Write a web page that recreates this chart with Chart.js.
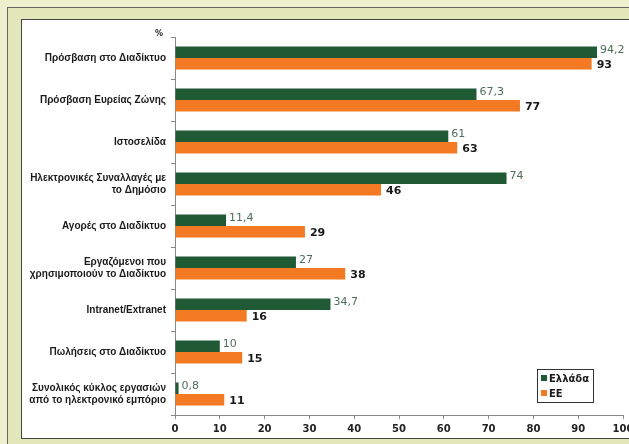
<!DOCTYPE html>
<html>
<head>
<meta charset="utf-8">
<script src="https://cdn.jsdelivr.net/npm/chart.js@4.4.0/dist/chart.umd.min.js"></script>
<style>
  html, body { margin: 0; padding: 0; width: 629px; height: 444px; overflow: hidden; background: #edf0cd; }
  #frame { position: absolute; left: 7px; top: 7px; width: 650px; height: 460px; border: 1px solid #666; background: #e3e8bb; }
  #panel { position: absolute; left: 13px; top: 11px; width: 620px; height: 418px; border: 1px solid #444; background: #fff; }
  canvas { display: block; }
</style>
</head>
<body>
<div id="frame">
  <div id="panel"><canvas id="chart" width="620" height="418"></canvas></div>
</div>
<script>
const categories = [
  "Πρόσβαση στο Διαδίκτυο",
  "Πρόσβαση Ευρείας Ζώνης",
  "Ιστοσελίδα",
  ["Ηλεκτρονικές Συναλλαγές με", "το Δημόσιο"],
  "Αγορές στο Διαδίκτυο",
  ["Εργαζόμενοι που", "χρησιμοποιούν το Διαδίκτυο"],
  "Intranet/Extranet",
  "Πωλήσεις στο Διαδίκτυο",
  ["Συνολικός κύκλος εργασιών", "από το ηλεκτρονικό εμπόριο"]
];
const greece = [94.2, 67.3, 61, 74, 11.4, 27, 34.7, 10, 0.8];
const eu = [93, 77, 63, 46, 29, 38, 16, 15, 11];
const xTicks = [0, 10, 20, 30, 40, 50, 60, 70, 80, 90, 100];

const GREEN = "#1f5a35";
const ORANGE = "#f37a23";

const valueLabels = {
  id: "valueLabels",
  afterDatasetsDraw(chart) {
    const ctx = chart.ctx;
    ctx.save();
    ctx.textBaseline = "middle";
    ctx.textAlign = "left";
    chart.data.datasets.forEach((ds, i) => {
      const meta = chart.getDatasetMeta(i);
      meta.data.forEach((bar, j) => {
        const txt = String(ds.data[j]).replace(".", ",");
        if (i === 0) {
          ctx.font = "11px 'DejaVu Sans'";
          ctx.fillStyle = "#4f6e5a";
          ctx.fillText(txt, bar.x + 3, bar.y - 2);
        } else {
          ctx.font = "bold 11px 'DejaVu Sans'";
          ctx.fillStyle = "#1a1a1a";
          ctx.fillText(txt, bar.x + 5, bar.y + 1);
        }
      });
    });
    ctx.restore();
  }
};

const extras = {
  id: "extras",
  afterDraw(chart) {
    const ctx = chart.ctx;
    const a = chart.chartArea;
    ctx.save();
    // percent sign
    ctx.font = "bold 8px 'DejaVu Sans'";
    ctx.fillStyle = "#222";
    ctx.textAlign = "right";
    ctx.textBaseline = "middle";
    ctx.fillText("%", a.left - 12, a.top - 3);
    // legend box
    const bx = a.right - 86, by = a.bottom - 46, bw = 56, bh = 33;
    ctx.fillStyle = "#fff";
    ctx.fillRect(bx, by, bw, bh);
    ctx.strokeStyle = "#333";
    ctx.lineWidth = 1;
    ctx.strokeRect(bx + 0.5, by + 0.5, bw, bh);
    const names = chart.data.datasets.map(d => d.label);
    const cols = chart.data.datasets.map(d => d.backgroundColor);
    ctx.textAlign = "left";
    ctx.font = "bold 10px 'DejaVu Sans'";
    names.forEach((n, i) => {
      const y = by + 9 + i * 15;
      ctx.fillStyle = cols[i];
      ctx.fillRect(bx + 4, y - 3, 6, 6);
      ctx.fillStyle = "#1a1a1a";
      ctx.fillText(n, bx + 12, y + 1);
    });
    ctx.restore();
  }
};

new Chart(document.getElementById("chart"), {
  type: "bar",
  data: {
    labels: categories,
    datasets: [
      { label: "Ελλάδα", data: greece, backgroundColor: GREEN, categoryPercentage: 0.55, barPercentage: 1.0 },
      { label: "ΕΕ", data: eu, backgroundColor: ORANGE, categoryPercentage: 0.55, barPercentage: 1.0 }
    ]
  },
  options: {
    indexAxis: "y",
    responsive: false,
    animation: false,
    layout: { padding: { top: 8, right: 19, left: 0, bottom: 0 } },
    plugins: { legend: { display: false }, tooltip: { enabled: false } },
    scales: {
      x: {
        min: 0,
        max: 100,
        afterBuildTicks: (s) => { s.ticks = xTicks.map(v => ({ value: v })); },
        afterFit: (s) => { s.height = 23; },
        grid: { drawOnChartArea: false, color: "#888", tickLength: 4 },
        border: { color: "#888" },
        ticks: { color: "#222", font: { family: "DejaVu Sans", weight: "bold", size: 10 }, padding: 4 }
      },
      y: {
        afterFit: (s) => { s.width = 153; },
        grid: { drawOnChartArea: false, offset: true, color: "#888", tickLength: 4 },
        border: { color: "#888" },
        ticks: { color: "#1a1a1a", font: { family: "Liberation Sans", weight: "bold", size: 10 }, padding: 5 }
      }
    }
  },
  plugins: [valueLabels, extras]
});
</script>
</body>
</html>
